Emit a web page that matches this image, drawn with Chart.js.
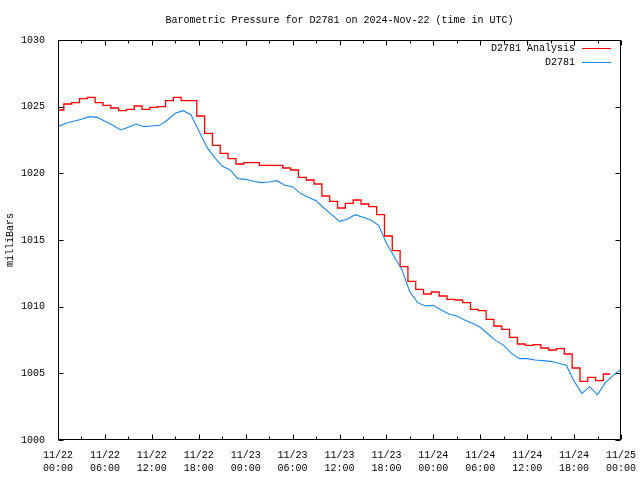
<!DOCTYPE html>
<html>
<head>
<meta charset="utf-8">
<title>Barometric Pressure for D2781</title>
<script src="https://cdn.jsdelivr.net/npm/chart.js@4.4.1/dist/chart.umd.min.js"></script>
<style>
  html, body { margin: 0; padding: 0; background: #fff; }
  canvas { display: block; }
</style>
</head>
<body>
<canvas id="pressureChart" width="640" height="480"></canvas>
<script>
// time axis is hours since 2024-11-22 00:00 UTC
const stationHours = [
    0, 1, 2, 3, 4, 5, 6, 7, 8, 9, 10, 11, 12, 13, 14, 15, 16, 17, 18, 19, 20, 21, 22, 23,
    24, 25, 26, 27, 28, 29, 30, 31, 32, 33, 34, 35, 36, 37, 38, 39, 40, 41, 42, 43, 44, 45, 46, 47,
    48, 49, 50, 51, 52, 53, 54, 55, 56, 57, 58, 59, 60, 61, 62, 63, 64, 65, 66, 67, 68, 69, 70, 71, 72
];
const stationPressure = [
    1023.5, 1023.75, 1023.9, 1024.05, 1024.25, 1024.2, 1023.9, 1023.6, 1023.25, 1023.45, 1023.7, 1023.5,
    1023.55, 1023.6, 1024.0, 1024.5, 1024.7, 1024.4, 1023.2, 1022.0, 1021.2, 1020.55, 1020.25, 1019.6,
    1019.55, 1019.4, 1019.3, 1019.35, 1019.45, 1019.1, 1019.0, 1018.5, 1018.2, 1017.95, 1017.4, 1016.9,
    1016.4, 1016.55, 1016.9, 1016.7, 1016.5, 1016.1, 1014.75, 1013.75, 1012.75, 1011.1, 1010.3, 1010.05,
    1010.1, 1009.75, 1009.45, 1009.3, 1009.0, 1008.75, 1008.45, 1007.95, 1007.45, 1007.1, 1006.5, 1006.1,
    1006.1, 1006.0, 1005.95, 1005.9, 1005.75, 1005.6, 1004.4, 1003.5, 1004.0, 1003.4, 1004.3, 1004.85, 1005.3
];

// analysis updates land a bit before each hour mark
const analysisHours = [
    0, 0.75, 1.75, 2.75, 3.75, 4.75, 5.75, 6.75, 7.75, 8.75, 9.75, 10.75, 11.75, 12.75, 13.75, 14.75,
    15.75, 16.75, 17.75, 18.75, 19.75, 20.75, 21.75, 22.75, 23.75, 24.75, 25.75, 26.75, 27.75, 28.75,
    29.75, 30.75, 31.75, 32.75, 33.75, 34.75, 35.75, 36.75, 37.75, 38.75, 39.75, 40.75, 41.75, 42.75,
    43.75, 44.75, 45.75, 46.75, 47.75, 48.75, 49.75, 50.75, 51.75, 52.75, 53.75, 54.75, 55.75, 56.75,
    57.75, 58.75, 59.75, 60.75, 61.75, 62.75, 63.75, 64.75, 65.75, 66.75, 67.75, 68.75, 69.75, 70.6
];
const analysisPressure = [
    1024.75, 1025.2, 1025.3, 1025.6, 1025.7, 1025.3, 1025.1, 1024.9, 1024.7, 1024.8, 1025.05, 1024.8,
    1024.95, 1025.0, 1025.45, 1025.7, 1025.45, 1025.45, 1024.3, 1023.0, 1022.1, 1021.5, 1021.1, 1020.7,
    1020.8, 1020.8, 1020.6, 1020.6, 1020.6, 1020.4, 1020.25, 1019.7, 1019.5, 1019.2, 1018.3, 1017.9,
    1017.4, 1017.75, 1018.0, 1017.7, 1017.5, 1016.9, 1015.3, 1014.2, 1013.0, 1011.9, 1011.3, 1010.95,
    1011.1, 1010.8, 1010.55, 1010.5, 1010.3, 1009.8, 1009.7, 1009.05, 1008.55, 1008.3, 1007.7, 1007.2,
    1007.1, 1007.15, 1006.9, 1006.75, 1006.85, 1006.45, 1005.4, 1004.4, 1004.7, 1004.45, 1004.95, 1004.95
];

const xTickLabels = [
    ['11/22', '00:00'], ['11/22', '06:00'], ['11/22', '12:00'], ['11/22', '18:00'],
    ['11/23', '00:00'], ['11/23', '06:00'], ['11/23', '12:00'], ['11/23', '18:00'],
    ['11/24', '00:00'], ['11/24', '06:00'], ['11/24', '12:00'], ['11/24', '18:00'],
    ['11/25', '00:00']
];
const yTickLabels = ['1000', '1005', '1010', '1015', '1020', '1025', '1030'];

const FONT = '"Liberation Mono", "DejaVu Sans Mono", monospace';

function toPoints(xs, ys) {
    return xs.map((x, i) => ({ x: x, y: ys[i] }));
}

// gnuplot look: frame, inward ticks, title, ylabel and legend
const gnuplotLook = {
    id: 'gnuplotLook',
    afterDraw(chart) {
        const ctx = chart.ctx;
        const a = chart.chartArea;
        const xs = chart.scales.x;
        const ys = chart.scales.y;
        const L = Math.round(a.left) + 0.5, R = Math.round(a.right) - 0.5;
        const T = Math.round(a.top) + 0.5, B = Math.round(a.bottom) - 0.5;

        ctx.save();
        ctx.strokeStyle = '#000';
        ctx.lineWidth = 1;
        ctx.beginPath();
        // x ticks, every 3 hours, long ones every 6
        for (let h = 0; h <= 72; h += 3) {
            const px = Math.round(xs.getPixelForValue(h)) + 0.5;
            const len = h % 6 === 0 ? 5 : 3;
            ctx.moveTo(px, B); ctx.lineTo(px, B - len);
            ctx.moveTo(px, T); ctx.lineTo(px, T + len);
        }
        ys.ticks.forEach(t => {
            const py = Math.round(ys.getPixelForValue(t.value)) + 0.5;
            ctx.moveTo(L, py); ctx.lineTo(L + 5, py);
            ctx.moveTo(R, py); ctx.lineTo(R - 5, py);
        });
        ctx.stroke();
        ctx.strokeRect(L, T, R - L, B - T);

        ctx.fillStyle = '#000';
        ctx.font = '10px ' + FONT;
        ctx.textAlign = 'center';
        ctx.textBaseline = 'middle';
        ctx.fillText('Barometric Pressure for D2781 on 2024-Nov-22 (time in UTC)', (a.left + a.right) / 2, 20);

        ctx.save();
        ctx.translate(10, (a.top + a.bottom) / 2);
        ctx.rotate(-Math.PI / 2);
        ctx.fillText('milliBars', 0, 0);
        ctx.restore();

        // legend, text on the left of the sample line
        ctx.textAlign = 'right';
        chart.data.datasets.forEach((ds, i) => {
            const y = 48 + i * 14;
            ctx.fillText(ds.label, 575, y);
            ctx.strokeStyle = ds.borderColor;
            ctx.beginPath();
            ctx.moveTo(582, y + 0.5);
            ctx.lineTo(611, y + 0.5);
            ctx.stroke();
        });
        ctx.restore();
    }
};

new Chart(document.getElementById('pressureChart'), {
    type: 'line',
    data: {
        datasets: [{
            label: 'D2781 Analysis',
            data: toPoints(analysisHours, analysisPressure),
            borderColor: '#ff0000',
            borderWidth: 1.3,
            stepped: true,
            pointRadius: 0,
            fill: false,
            order: 1
        }, {
            label: 'D2781',
            data: toPoints(stationHours, stationPressure),
            borderColor: '#1a86f0',
            borderWidth: 1.1,
            tension: 0,
            pointRadius: 0,
            fill: false,
            order: 0
        }]
    },
    options: {
        responsive: false,
        animation: false,
        layout: { padding: { top: 40, right: 19, bottom: 0, left: 0 } },
        plugins: {
            legend: { display: false },
            title: { display: false },
            tooltip: { enabled: false }
        },
        scales: {
            x: {
                type: 'linear',
                min: 0,
                max: 72,
                afterFit(scale) {
                    scale.height = 40;
                    scale.paddingLeft = 0;
                    scale.paddingRight = 0;
                },
                grid: { display: false },
                border: { display: false },
                ticks: {
                    stepSize: 6,
                    autoSkip: false,
                    maxRotation: 0,
                    padding: 1,
                    color: '#000',
                    font: { family: FONT, size: 10, lineHeight: 1.3 },
                    callback: v => xTickLabels[Math.round(v / 6)]
                }
            },
            y: {
                min: 1000,
                max: 1030,
                afterFit(scale) {
                    scale.width = 58;
                    scale.paddingTop = 0;
                    scale.paddingBottom = 0;
                },
                grid: { display: false },
                border: { display: false },
                ticks: {
                    stepSize: 5,
                    padding: 5,
                    color: '#000',
                    font: { family: FONT, size: 10 },
                    callback: v => yTickLabels[Math.round((v - 1000) / 5)]
                }
            }
        }
    },
    plugins: [gnuplotLook]
});
</script>
</body>
</html>
